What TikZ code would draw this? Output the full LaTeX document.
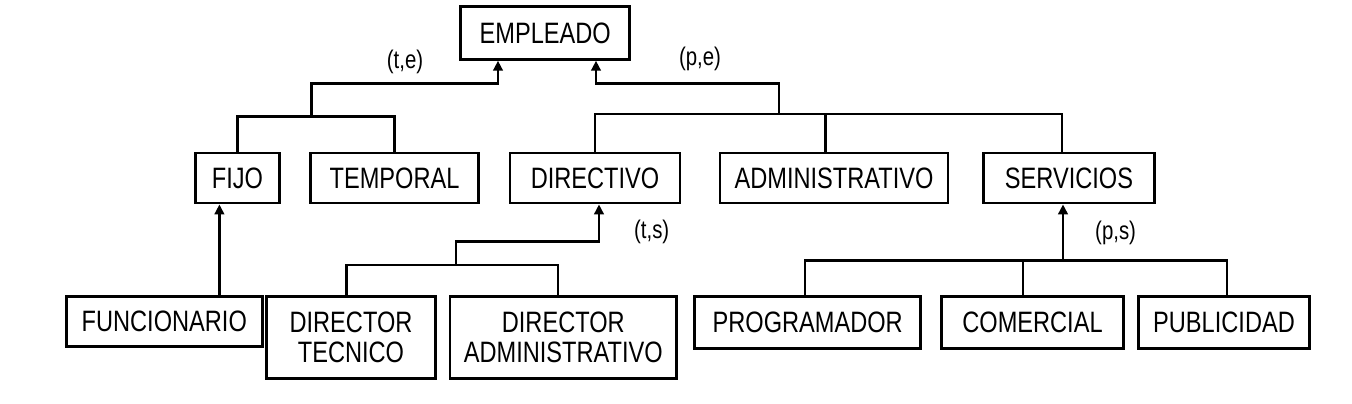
\documentclass[tikz,border=0pt]{standalone}
\usepackage{fontspec}
\setmainfont{Liberation Sans}[FakeStretch=0.8]
\usetikzlibrary{arrows.meta}
\tikzset{
  box/.style={draw=black, line width=2.8pt, inner sep=0pt, font=\fontsize{29.5}{30}\selectfont, align=center},
  lbl/.style={inner sep=0pt, font=\fontsize{25.5}{28}\selectfont},
  conn/.style={draw=black, line width=2.6pt},
  arr/.style={conn, -{Triangle[length=10pt,width=9.5pt]}}
}
\begin{document}
\begin{tikzpicture}[x=1pt,y=-1pt]
\useasboundingbox (0,0) rectangle (1352,404);
% boxes
\node[box, minimum width=169pt, minimum height=52.6pt] (emp) at (545.2,33) {EMPLEADO};
\node[box, minimum width=84pt, minimum height=50pt] (fijo) at (237.5,178) {FIJO};
\node[box, minimum width=168pt, minimum height=50pt] (temp) at (394.5,178) {TEMPORAL};
\node[box, minimum width=170pt, minimum height=50pt] (dir) at (595,178) {DIRECTIVO};
\node[box, minimum width=228pt, minimum height=50pt] (adm) at (834,178) {ADMINISTRATIVO};
\node[box, minimum width=171pt, minimum height=50pt] (serv) at (1069,178) {SERVICIOS};
\node[box, minimum width=196pt, minimum height=50pt] (func) at (164.3,321.7) {FUNCIONARIO};
\node[box, minimum width=169.4pt, minimum height=81.6pt] (dtec) at (351,337.5) {DIRECTOR\\TECNICO};
\node[box, minimum width=226.5pt, minimum height=81.6pt] (dadm) at (563.3,337.5) {DIRECTOR\\ADMINISTRATIVO};
\node[box, minimum width=226pt, minimum height=51.6pt] (prog) at (807.7,322.5) {PROGRAMADOR};
\node[box, minimum width=181.4pt, minimum height=51.6pt] (com) at (1032.5,322.5) {COMERCIAL};
\node[box, minimum width=170.4pt, minimum height=51.6pt] (pub) at (1224,322.5) {PUBLICIDAD};
% labels
\node[lbl] (lte) at (405,62) {(t,e)};
\node[lbl] (lpe) at (700,59) {(p,e)};
\node[lbl] (lts) at (651.7,231.7) {(t,s)};
\node[lbl] (lps) at (1115.6,233.3) {(p,s)};
% coordinates
\coordinate (j1) at (311.6,116.7);
\coordinate (te) at (498,83.3);
\coordinate (j2) at (778.8,114);
\coordinate (pe) at (596,83.3);
\coordinate (d2) at (825.6,114);
\coordinate (d3) at (1062,114);
\coordinate (fa) at (219.4,250);
\coordinate (ts1) at (346.7,265);
\coordinate (ts2) at (558,265);
\coordinate (j3) at (456,265);
\coordinate (ts) at (599,241.7);
\coordinate (p1) at (805,260.7);
\coordinate (p2) at (1023,260.7);
\coordinate (p3) at (1227,260.7);
\coordinate (j4) at (1063,260.7);
% FIJO / TEMPORAL -> EMPLEADO
\draw[conn] (fijo.north) |- (j1) -| (temp.north);
\draw[arr] (j1) |- (te) -- (te |- emp.south);
% DIRECTIVO / ADMINISTRATIVO / SERVICIOS -> EMPLEADO
\draw[conn] (dir.north) |- (d3) -- (d3 |- serv.north);
\draw[conn] (d2) -- (d2 |- adm.north);
\draw[arr] (j2) |- (pe) -- (pe |- emp.south);
% FUNCIONARIO -> FIJO
\draw[arr] (fa |- func.north) -- (fa |- fijo.south);
% DIRECTOR TECNICO / ADMINISTRATIVO -> DIRECTIVO
\draw[conn] (ts1 |- dtec.north) -- (ts1) -- (ts2) -- (ts2 |- dadm.north);
\draw[arr] (j3) |- (ts) -- (ts |- dir.south);
% PROGRAMADOR / COMERCIAL / PUBLICIDAD -> SERVICIOS
\draw[conn] (p1 |- prog.north) -- (p1) -- (p3) -- (p3 |- pub.north);
\draw[conn] (p2) -- (p2 |- com.north);
\draw[arr] (j4) -- (j4 |- serv.south);
\end{tikzpicture}
\end{document}
